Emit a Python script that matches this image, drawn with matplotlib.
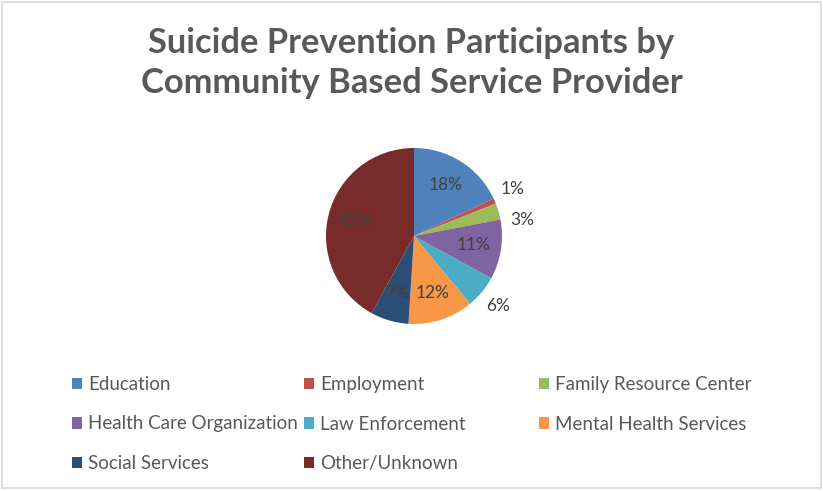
import numpy as np
import matplotlib
matplotlib.use("Agg")
import matplotlib.pyplot as plt
from matplotlib.patches import Patch, Rectangle

# Participants by provider type (percent of total)
categories = [
    "Education",
    "Employment",
    "Family Resource Center",
    "Health Care Organization",
    "Law Enforcement",
    "Mental Health Services",
    "Social Services",
    "Other/Unknown",
]
shares = [18, 1, 3, 11, 6, 12, 7, 42]
colors = ["#4F81BD", "#C0504D", "#9BBB59", "#8064A2",
          "#4BACC6", "#F79646", "#2C4D75", "#772C2A"]
# small slices get their label outside the pie
outside = [False, True, True, False, True, False, False, False]
# angle tweak (degrees) so outside labels don't crowd each other
nudge = [0, 2, -8, 0, 0, 0, 0, 0]

TEXT = "#595959"
LABEL = "#404040"

fig = plt.figure(figsize=(8.23, 4.91), dpi=100)
W, H = 823, 491

fig.patches.append(Rectangle((0.003, 0.006), 0.994, 0.99, transform=fig.transFigure,
                             fill=False, edgecolor="#D9D9D9", linewidth=1.2))

fig.text(0.5, 1 - 43 / H, "Suicide Prevention Participants by",
         ha="center", va="center", fontsize=24.8, fontweight="bold",
         family="Lato", color=TEXT)
fig.text(0.5, 1 - 83 / H, "Community Based Service Provider",
         ha="center", va="center", fontsize=24.8, fontweight="bold",
         family="Lato", color=TEXT)

# pie centred at (414, 236) px, radius 88 px
cx, cy, r = 414, 236, 88
ax = fig.add_axes([(cx - r) / W, (H - cy - r) / H, 2 * r / W, 2 * r / H])
wedges, _ = ax.pie(shares, colors=colors, startangle=90, counterclock=False,
                   radius=1, wedgeprops=dict(linewidth=0))
ax.set_xlim(-1, 1)
ax.set_ylim(-1, 1)
ax.set_aspect("equal")
ax.axis("off")

for w, val, out, dn in zip(wedges, shares, outside, nudge):
    ang = np.deg2rad((w.theta1 + w.theta2) / 2 + dn)
    d = 1.24 if out else 0.68
    ax.text(d * np.cos(ang), d * np.sin(ang), f"{val}%",
            ha="center", va="center", fontsize=12.5, family="Lato",
            color=LABEL, clip_on=False)

# legend laid out row by row in three fixed-width columns
handles = [Patch(facecolor=c, edgecolor="none") for c in colors]
col_x = [72, 304, 539]
for i, x in enumerate(col_x):
    fig.legend(handles[i::3], categories[i::3], loc="upper left",
               bbox_to_anchor=(x / W, 1 - 376 / H), frameon=False,
               prop=dict(family="Lato", size=13.5), labelcolor=TEXT,
               handlelength=0.55, handleheight=0.55, handletextpad=0.3,
               labelspacing=1.2, borderaxespad=0, borderpad=0)

fig.savefig("out.png", dpi=100, facecolor="white")
